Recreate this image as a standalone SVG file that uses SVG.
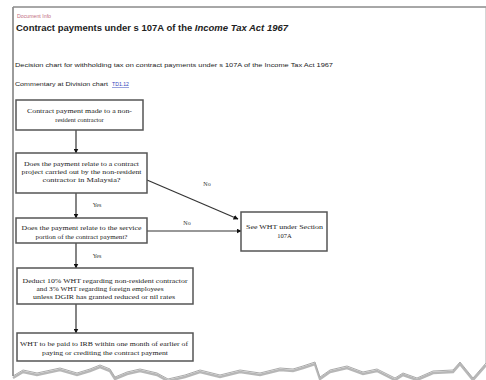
<svg xmlns="http://www.w3.org/2000/svg" width="486" height="380" viewBox="0 0 486 380">
<defs>
<style>
.box{fill:#fff;stroke:#555;stroke-width:1.5}
.bt{font-family:"Liberation Serif",serif;font-size:6.5px;fill:#222;text-anchor:middle}
.lbl{font-family:"Liberation Serif",serif;font-size:6px;fill:#333;text-anchor:middle}
.cn{stroke:#333;stroke-width:1.2;fill:none;marker-end:url(#ah)}
.hd{font-family:"Liberation Sans",sans-serif;fill:#222}
</style>
<marker id="ah" viewBox="0 0 10 10" refX="9" refY="5" markerWidth="5" markerHeight="5" orient="auto" markerUnits="userSpaceOnUse">
<path d="M0,0 L10,5 L0,10 z" fill="#111"/>
</marker>
</defs>
<rect width="486" height="380" fill="#fff"/>
<g id="page">
<polyline points="13,378 23,372 37,375 60,370 77,375 90,371 100,367 110,371 115,379 127,374 140,371 157,375 168,381 185,377 200,372 220,377 240,372 260,375 280,370 293,371 303,368 315,364 320,379 330,372 347,368 363,374 377,371 395,380 403,375 417,380 433,373 453,372 460,364 473,380 486,365" fill="none" stroke="#999" stroke-width="2.5" opacity="0.7"/>
<path d="M486,7 L13,7 L13,376 L23,370 L37,373 L60,368 L77,373 L90,369 L100,365 L110,369 L115,377 L127,372 L140,369 L157,373 L168,379 L185,375 L200,370 L220,375 L240,370 L260,373 L280,368 L293,369 L303,366 L315,362 L320,377 L330,370 L347,366 L363,372 L377,369 L395,378 L403,373 L417,378 L433,371 L453,370 L460,362 L473,378 L486,363 Z" fill="#fff" stroke="#aaa" stroke-width="1"/>
<line x1="13" y1="7" x2="486" y2="7" stroke="#999" stroke-width="1.5"/>
<line x1="13" y1="7" x2="13" y2="376" stroke="#888" stroke-width="1.5"/>
</g>
<g id="header">
<text x="17" y="18" class="hd" font-size="5" style="fill:#c06b7e" textLength="34" lengthAdjust="spacingAndGlyphs">Document Info</text>
<text x="16" y="31" class="hd" font-size="9" font-weight="bold" textLength="272" lengthAdjust="spacingAndGlyphs">Contract payments under s 107A of the <tspan font-style="italic">Income Tax Act 1967</tspan></text>
<text x="15" y="67" class="hd" font-size="5" textLength="318" lengthAdjust="spacingAndGlyphs">Decision chart for withholding tax on contract payments under s 107A of the Income Tax Act 1967</text>
<text x="15" y="86" class="hd" font-size="5" textLength="93" lengthAdjust="spacingAndGlyphs">Commentary at Division chart</text>
<text x="112" y="86" class="hd" font-size="5" style="fill:#3344bb" text-decoration="underline" textLength="17" lengthAdjust="spacingAndGlyphs">TD1.12</text>
</g>
<g id="connectors">
<line class="cn" x1="76" y1="130" x2="76" y2="153"/>
<line class="cn" x1="76" y1="193" x2="76" y2="218"/>
<line class="cn" x1="76" y1="243" x2="76" y2="268"/>
<line class="cn" x1="76" y1="304" x2="76" y2="333"/>
<line class="cn" x1="147" y1="180" x2="238" y2="219"/>
<line class="cn" x1="147" y1="231" x2="241" y2="231"/>
<text class="lbl" x="97" y="207">Yes</text>
<text class="lbl" x="97" y="258">Yes</text>
<text class="lbl" x="207" y="186">No</text>
<text class="lbl" x="187" y="225">No</text>
</g>
<g id="n1">
<rect class="box" x="16" y="100" width="127" height="30"/>
<text class="bt" x="79.5" y="113" textLength="105" lengthAdjust="spacingAndGlyphs">Contract payment made to a non-</text>
<text class="bt" x="79.5" y="122">resident contractor</text>
</g>
<g id="n2">
<rect class="box" x="16" y="153" width="131" height="40"/>
<text class="bt" x="81.5" y="166" textLength="115" lengthAdjust="spacingAndGlyphs">Does the payment relate to a contract</text>
<text class="bt" x="81.5" y="174" textLength="120" lengthAdjust="spacingAndGlyphs">project carried out by the non-resident</text>
<text class="bt" x="81.5" y="182" textLength="78" lengthAdjust="spacingAndGlyphs">contractor in Malaysia?</text>
</g>
<g id="n3">
<rect class="box" x="16" y="218" width="131" height="25"/>
<text class="bt" x="81.5" y="230" textLength="120" lengthAdjust="spacingAndGlyphs">Does the payment relate to the service</text>
<text class="bt" x="81.5" y="239" textLength="92" lengthAdjust="spacingAndGlyphs">portion of the contract payment?</text>
</g>
<g id="n4">
<rect class="box" x="17" y="268" width="176" height="36"/>
<text class="bt" x="105" y="283" textLength="165" lengthAdjust="spacingAndGlyphs">Deduct 10% WHT regarding non-resident contractor</text>
<text class="bt" x="100" y="291" textLength="127" lengthAdjust="spacingAndGlyphs">and 3% WHT regarding foreign employees</text>
<text class="bt" x="104" y="299" textLength="142" lengthAdjust="spacingAndGlyphs">unless DGIR has granted reduced or nil rates</text>
</g>
<g id="n5">
<rect class="box" x="17" y="333" width="176" height="28"/>
<text class="bt" x="104" y="346" textLength="168" lengthAdjust="spacingAndGlyphs">WHT to be paid to IRB within one month of earlier of</text>
<text class="bt" x="105" y="355" textLength="126" lengthAdjust="spacingAndGlyphs">paying or crediting the contract payment</text>
</g>
<g id="n6">
<rect class="box" x="241" y="212" width="86" height="39"/>
<text class="bt" x="284.5" y="229" textLength="77" lengthAdjust="spacingAndGlyphs">See WHT under Section</text>
<text class="bt" x="284.5" y="238">107A</text>
</g>
</svg>
